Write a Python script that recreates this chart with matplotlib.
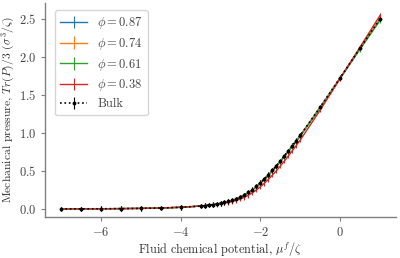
import numpy as np
import matplotlib
matplotlib.use('Agg')
import matplotlib.pyplot as plt

plt.rcParams['font.family'] = ['cmr10', 'DejaVu Serif']
plt.rcParams['mathtext.fontset'] = 'cm'
plt.rcParams['axes.formatter.use_mathtext'] = True
plt.rcParams['font.size'] = 9

# Data ------------------------------------------------------------------------
mu = [-7.0, -6.5, -6.0, -5.5, -5.0, -4.5, -4.0, -3.5,
      -3.4, -3.3, -3.2, -3.1, -3.0, -2.9, -2.8, -2.7, -2.6, -2.5,
      -2.4, -2.3, -2.2, -2.1, -2.0, -1.9, -1.8, -1.7, -1.6, -1.5,
      -1.4, -1.3, -1.2, -1.1, -1.0, -0.5, 0.0, 0.5, 1.0]

p_bulk = [0.001, 0.002, 0.003, 0.005, 0.008, 0.013, 0.022, 0.038,
          0.044, 0.050, 0.057, 0.065, 0.075, 0.086, 0.099, 0.114, 0.133, 0.156,
          0.184, 0.217, 0.255, 0.298, 0.345, 0.395, 0.450, 0.508, 0.568, 0.632,
          0.698, 0.765, 0.832, 0.900, 0.968, 1.340, 1.725, 2.115, 2.500]

p_087 = [0.001, 0.002, 0.003, 0.005, 0.008, 0.013, 0.022, 0.038,
         0.044, 0.050, 0.057, 0.065, 0.075, 0.086, 0.099, 0.114, 0.133, 0.156,
         0.184, 0.217, 0.255, 0.298, 0.345, 0.395, 0.450, 0.508, 0.568, 0.632,
         0.698, 0.765, 0.832, 0.900, 0.968, 1.340, 1.725, 2.110, 2.490]

p_074 = [0.001, 0.002, 0.003, 0.005, 0.008, 0.013, 0.022, 0.038,
         0.044, 0.050, 0.057, 0.065, 0.075, 0.086, 0.099, 0.114, 0.133, 0.155,
         0.182, 0.214, 0.251, 0.293, 0.339, 0.388, 0.442, 0.500, 0.560, 0.624,
         0.690, 0.757, 0.825, 0.893, 0.962, 1.336, 1.725, 2.118, 2.505]

p_061 = [0.001, 0.002, 0.003, 0.005, 0.008, 0.013, 0.022, 0.038,
         0.044, 0.050, 0.057, 0.065, 0.074, 0.085, 0.098, 0.113, 0.131, 0.153,
         0.180, 0.212, 0.249, 0.291, 0.337, 0.386, 0.440, 0.497, 0.557, 0.620,
         0.686, 0.753, 0.820, 0.888, 0.957, 1.330, 1.715, 2.100, 2.480]

p_038 = [0.001, 0.002, 0.003, 0.005, 0.008, 0.013, 0.023, 0.040,
         0.045, 0.050, 0.055, 0.061, 0.068, 0.077, 0.087, 0.099, 0.114, 0.132,
         0.154, 0.181, 0.213, 0.250, 0.292, 0.338, 0.389, 0.444, 0.502, 0.564,
         0.629, 0.696, 0.765, 0.835, 0.906, 1.300, 1.715, 2.130, 2.545]

err = 0.03
labels = [r'$\phi = 0.87$', r'$\phi = 0.74$', r'$\phi = 0.61$', r'$\phi = 0.38$']
colors = ['#1f77b4', '#ff7f0e', '#2ca02c', '#d62728']

# Plot ------------------------------------------------------------------------
fig = plt.figure(figsize=(4.0, 2.58), dpi=100)
ax = fig.add_axes([0.1125, 0.159, 0.8775, 0.83])

for p, lab, c in zip([p_087, p_074, p_061, p_038], labels, colors):
    ax.errorbar(mu, p, yerr=err, color=c, lw=1.0, elinewidth=0.8, label=lab)

ax.errorbar(mu, p_bulk, yerr=err, color='k', ls=':', lw=1.2, marker='.',
            ms=3.5, elinewidth=0.8, label='Bulk')

ax.set_xlim(-7.4, 1.4)
ax.set_ylim(-0.105, 2.71)
ax.set_xticks([-6, -4, -2, 0])
ax.set_yticks([0.0, 0.5, 1.0, 1.5, 2.0, 2.5])

for s in ['top', 'right']:
    ax.spines[s].set_visible(False)
for s in ['left', 'bottom']:
    ax.spines[s].set_color('#808080')
    ax.spines[s].set_linewidth(1.0)
ax.tick_params(colors='#808080', labelcolor='#444444', length=3, width=0.8,
               labelsize=9)

ax.set_xlabel(r'Fluid chemical potential, $\mu^f/\zeta$', color='#333333',
              fontsize=8.8, labelpad=1)
ax.set_ylabel(r'Mechanical pressure, $Tr(P)/3$ $(\sigma^3/\zeta)$',
              color='#333333', fontsize=8.4, labelpad=1)

leg = ax.legend(loc='upper left', fontsize=9, frameon=True, handlelength=2.2,
                borderpad=0.4, labelspacing=0.38, bbox_to_anchor=(0.01, 0.995))
leg.get_frame().set_edgecolor('#cccccc')
for t in leg.get_texts():
    t.set_color('#444444')

fig.savefig('out.png', dpi=100)
